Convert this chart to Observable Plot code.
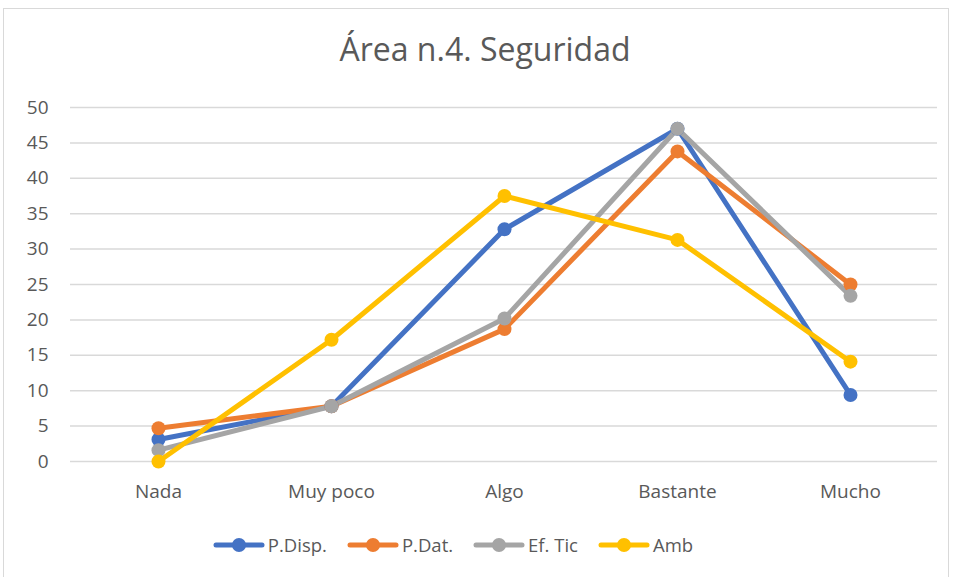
<!DOCTYPE html>
<html>
<head>
<meta charset="utf-8">
<script src="https://cdn.jsdelivr.net/npm/d3@7"></script>
<script src="https://cdn.jsdelivr.net/npm/@observablehq/plot@0.6"></script>
<style>
  html, body { margin: 0; padding: 0; background: #fff; }
  #wrap { position: relative; width: 953px; height: 577px; overflow: hidden; font-family: "Open Sans", Lato, sans-serif; }
  #frame { position: absolute; left: 3px; top: 8px; width: 946px; height: 575px; border: 1px solid #d9d9d9; box-sizing: border-box; }
  #title { position: absolute; left: 0; width: 970px; top: 27px; text-align: center; font-size: 32px; color: #595959; font-weight: 400; }
  #chart { position: absolute; left: 0; top: 0; }
  #legend { position: absolute; left: 0; top: 532px; width: 906px; display: flex; justify-content: center; gap: 20px; font-size: 18.5px; color: #595959; }
  .item { display: flex; align-items: center; gap: 3px; }
</style>
</head>
<body>
<div id="wrap">
  <div id="frame"></div>
  <div id="chart"></div>
  <div id="title">Área n.4. Seguridad</div>
  <div id="legend"></div>
</div>
<script>
const categories = ["Nada", "Muy poco", "Algo", "Bastante", "Mucho"];
const seriesNames = ["P.Disp.", "P.Dat.", "Ef. Tic", "Amb"];
const pDisp = [3.1, 7.8, 32.8, 47.0, 9.4];
const pDat  = [4.7, 7.8, 18.7, 43.8, 25.0];
const efTic = [1.6, 7.8, 20.2, 47.0, 23.4];
const amb   = [0.0, 17.2, 37.5, 31.3, 14.1];
const yTicks = [0, 5, 10, 15, 20, 25, 30, 35, 40, 45, 50];
const colors = ["#4472C4", "#ED7D31", "#A5A5A5", "#FFC000"];

const seriesValues = [pDisp, pDat, efTic, amb];
const data = seriesNames.flatMap((s, i) =>
  categories.map((c, j) => ({ series: s, category: c, value: seriesValues[i][j] }))
);

const plot = Plot.plot({
  width: 953,
  height: 577,
  marginTop: 107,
  marginBottom: 116,
  marginLeft: 70,
  marginRight: 16,
  style: { fontFamily: "'Open Sans', Lato, sans-serif", fontSize: "19px", color: "#595959", background: "transparent" },
  x: { domain: categories, padding: 0.5, label: null },
  y: { domain: [0, 50], label: null },
  color: { domain: seriesNames, range: colors },
  marks: [
    Plot.ruleY(yTicks, { stroke: "#d9d9d9", strokeWidth: 1.5 }),
    Plot.axisY({ ticks: yTicks, tickSize: 0, tickPadding: 22, label: null, fill: "#595959" }),
    Plot.axisX({ tickSize: 0, tickPadding: 23, label: null, fill: "#595959" }),
    ...seriesNames.map((s, i) => Plot.line(data.filter(d => d.series === s), {
      x: "category", y: "value", stroke: colors[i], strokeWidth: 5, strokeLinejoin: "round", strokeLinecap: "round"
    })),
    ...seriesNames.map((s, i) => Plot.dot(data.filter(d => d.series === s), {
      x: "category", y: "value", fill: colors[i], r: 7
    }))
  ]
});
document.getElementById("chart").appendChild(plot);

const legend = document.getElementById("legend");
seriesNames.forEach((s, i) => {
  const item = document.createElement("div");
  item.className = "item";
  item.innerHTML = `<svg width="52" height="16"><line x1="3" y1="8" x2="49" y2="8" stroke="${colors[i]}" stroke-width="5" stroke-linecap="round"/><circle cx="26" cy="8" r="7" fill="${colors[i]}"/></svg><span>${s}</span>`;
  legend.appendChild(item);
});
</script>
</body>
</html>
